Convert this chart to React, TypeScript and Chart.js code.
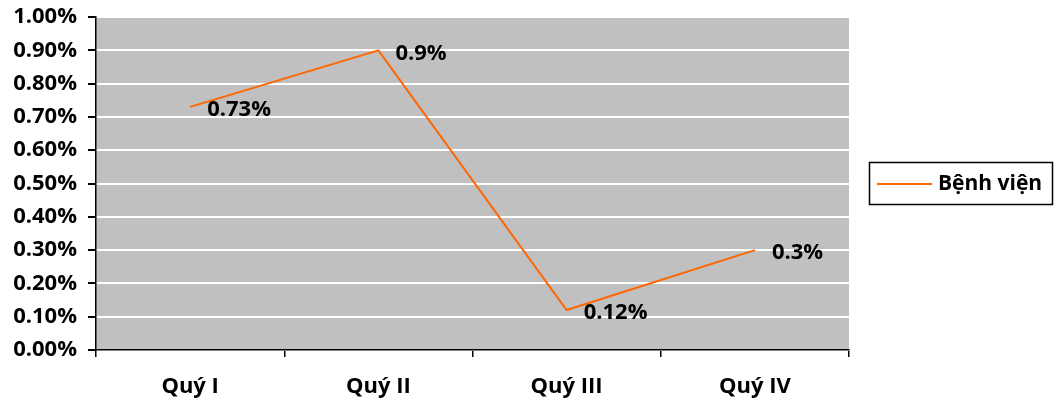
import React, { useEffect, useRef } from "react";
import { Chart, registerables } from "chart.js";

Chart.register(...registerables);

const categories = ["Quý I", "Quý II", "Quý III", "Quý IV"];
const seriesName = "Bệnh viện";
const values = [0.73, 0.9, 0.12, 0.3];
const valueLabels = ["0.73%", "0.9%", "0.12%", "0.3%"];
const yTicks = [0, 0.1, 0.2, 0.3, 0.4, 0.5, 0.6, 0.7, 0.8, 0.9, 1.0];

const FONT = "'Open Sans', 'Noto Sans', sans-serif";
const LINE_COLOR = "#FF6600";

const bgPlugin = {
  id: "plotBg",
  beforeDraw(chart: any) {
    const { ctx, chartArea } = chart;
    ctx.save();
    ctx.fillStyle = "#C0C0C0";
    ctx.fillRect(chartArea.left, chartArea.top, chartArea.right - chartArea.left, chartArea.bottom - chartArea.top);
    ctx.restore();
  },
};

const labelPlugin = {
  id: "valueLabels",
  afterDatasetsDraw(chart: any) {
    const { ctx } = chart;
    const meta = chart.getDatasetMeta(0);
    ctx.save();
    ctx.font = `bold 22px ${FONT}`;
    ctx.fillStyle = "#000";
    ctx.textAlign = "left";
    ctx.textBaseline = "middle";
    meta.data.forEach((pt: any, i: number) => {
      ctx.fillText(valueLabels[i], pt.x + 17, pt.y + 3);
    });
    ctx.restore();
  },
};

const legendPlugin = {
  id: "boxLegend",
  afterDraw(chart: any) {
    const { ctx } = chart;
    const x = 869, y = 162, w = 183, h = 42;
    ctx.save();
    ctx.fillStyle = "#fff";
    ctx.fillRect(x, y, w, h);
    ctx.strokeStyle = "#000";
    ctx.lineWidth = 1.5;
    ctx.strokeRect(x + 0.5, y + 0.5, w, h);
    ctx.strokeStyle = LINE_COLOR;
    ctx.lineWidth = 2;
    ctx.beginPath();
    ctx.moveTo(877, y + h / 2 + 1);
    ctx.lineTo(932, y + h / 2 + 1);
    ctx.stroke();
    ctx.font = `bold 21px ${FONT}`;
    ctx.fillStyle = "#000";
    ctx.textAlign = "left";
    ctx.textBaseline = "middle";
    ctx.fillText(chart.data.datasets[0].label, 938, y + h / 2 + 1);
    ctx.restore();
  },
};

export default function App() {
  const ref = useRef<HTMLCanvasElement>(null);
  useEffect(() => {
    const chart = new Chart(ref.current!, {
      type: "line",
      data: {
        labels: categories,
        datasets: [
          {
            label: seriesName,
            data: values,
            borderColor: LINE_COLOR,
            backgroundColor: LINE_COLOR,
            borderWidth: 2,
            pointRadius: 0,
            tension: 0,
          },
        ],
      },
      options: {
        animation: false,
        responsive: false,
        maintainAspectRatio: false,
        layout: { padding: { top: 17, right: 208, bottom: 0, left: 0 } },
        plugins: { legend: { display: false }, tooltip: { enabled: false } },
        scales: {
          x: {
            offset: true,
            grid: {
              offset: true,
              drawOnChartArea: false,
              drawTicks: true,
              tickLength: 7,
              tickColor: "#000",
              lineWidth: 1.5,
            },
            border: { display: true, color: "#000", width: 1.5 },
            ticks: {
              color: "#000",
              font: { family: FONT, size: 22, weight: "bold" },
              padding: 17,
              maxRotation: 0,
            },
            afterFit(scale: any) {
              scale.height = 55;
              scale.paddingLeft = 0;
              scale.paddingRight = 0;
            },
          },
          y: {
            min: 0,
            max: 1,
            afterBuildTicks(scale: any) {
              scale.ticks = yTicks.map((v) => ({ value: v }));
            },
            grid: {
              color: "#FFFFFF",
              lineWidth: 2,
              tickColor: "#000",
              tickLength: 8,
            },
            border: { display: true, color: "#000", width: 1.5 },
            ticks: {
              color: "#000",
              font: { family: FONT, size: 22, weight: "bold" },
              padding: 11,
              callback: (v: any) => Number(v).toFixed(2) + "%",
            },
            afterFit(scale: any) {
              scale.width = 96;
              scale.paddingTop = 0;
              scale.paddingBottom = 0;
            },
          },
        },
      },
      plugins: [bgPlugin, labelPlugin, legendPlugin],
    });
    return () => chart.destroy();
  }, []);
  return (
    <div style={{ position: "fixed", left: 0, top: 0, width: 1057, height: 405, background: "#fff" }}>
      <canvas ref={ref} width={1057} height={405} style={{ display: "block" }} />
    </div>
  );
}
